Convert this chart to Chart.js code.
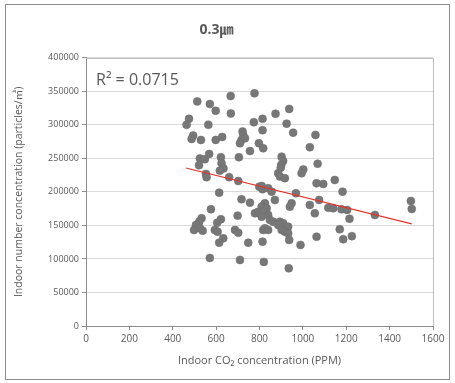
<!DOCTYPE html>
<html>
<head>
<meta charset="utf-8">
<script src="https://cdn.jsdelivr.net/npm/chart.js@4"></script>
<style>
    body { margin: 0; background: #ffffff; }
    #wrap { width: 455px; height: 383px; }
</style>
</head>
<body>
<div id="wrap"><canvas id="chart" width="455" height="383"></canvas></div>
<script>
// ---- data ----
const co2Ppm = [
    667, 777, 513, 571, 598, 668, 475, 464, 564, 774,
    814, 814, 722, 725, 717, 733, 710, 494, 487, 530,
    598, 628, 797, 817, 756, 568, 525, 548, 622, 705,
    625, 521, 634, 937, 874, 925, 955, 1058, 1032, 902,
    909, 900, 898, 1068, 1002, 994, 617, 553, 556, 660,
    702, 799, 814, 614, 717, 756, 820, 576, 699, 779,
    794, 802, 533, 522, 507, 498, 525, 538, 622, 605,
    594, 607, 687, 702, 817, 633, 614, 748, 814, 886,
    894, 917, 1063, 1094, 1147, 810, 840, 856, 968, 1183,
    871, 825, 810, 833, 948, 940, 1032, 1075, 1117, 1140,
    1178, 1204, 1055, 817, 810, 840, 848, 863, 894, 909,
    886, 932, 902, 917, 932, 825, 840, 1170, 937, 1063,
    1186, 989, 1226, 1215, 1332, 1498, 1502, 571, 710, 820,
    935
];
const particleCount = [
    343000, 347000, 335000, 331000, 321000, 317000, 309000, 300000, 300000, 304000,
    309000, 292000, 290000, 285000, 277500, 280000, 272600, 284000, 279000, 277500,
    277500, 282000, 272600, 265000, 261000, 256600, 250000, 248700, 251700, 251700,
    242700, 239700, 235000, 323800, 316700, 301800, 288400, 285000, 266600, 252600,
    246200, 240000, 236000, 242000, 233500, 227800, 231700, 226800, 221900, 221900,
    216300, 207800, 204000, 198900, 189000, 184000, 180500, 174100, 164600, 168100,
    170500, 168100, 160700, 155600, 150700, 143200, 145800, 142200, 159200, 154100,
    143200, 140700, 143200, 139200, 143200, 130800, 124300, 124300, 125800, 227800,
    222800, 220400, 212900, 211900, 217800, 208900, 205400, 200400, 198000, 200400,
    188000, 183000, 178000, 175600, 183000, 178000, 180500, 188000, 176500, 175600,
    174100, 173100, 168100, 170500, 163100, 165600, 158200, 155600, 155600, 153200,
    150700, 148200, 143200, 140700, 138300, 145800, 143200, 144300, 128300, 133200,
    129300, 120900, 134000, 160000, 165600, 186500, 174600, 101500, 98500, 95500,
    86000
];

// linear trend line end points
const trendX = [461, 1502];
const trendY = [235700, 152200];
const rSquaredText = "R² = 0.0715";

// axis ticks
const xTickValues = [0, 200, 400, 600, 800, 1000, 1200, 1400, 1600];
const yTickValues = [0, 50000, 100000, 150000, 200000, 250000, 300000, 350000, 400000];

const FONT = "'Open Sans', 'Noto Sans CJK KR', sans-serif";
const TEXT_GRAY = "#595959";
const AXIS_GRAY = "#8c8c8c";

// outer frame + plot border + R² label
const decorPlugin = {
    id: "decor",
    beforeDraw(chart) {
        const ctx = chart.ctx;
        ctx.save();
        ctx.fillStyle = "#ffffff";
        ctx.fillRect(0, 0, chart.width, chart.height);
        ctx.strokeStyle = "#8c8c8c";
        ctx.lineWidth = 1;
        ctx.strokeRect(5.5, 4.5, 444, 375);
        ctx.restore();
    },
    afterDraw(chart) {
        const ctx = chart.ctx;
        const area = chart.chartArea;
        ctx.save();
        ctx.strokeStyle = "#bfbfbf";
        ctx.lineWidth = 1;
        ctx.beginPath();
        ctx.moveTo(area.left, Math.round(area.top) + 0.5);
        ctx.lineTo(Math.round(area.right) + 0.5, Math.round(area.top) + 0.5);
        ctx.lineTo(Math.round(area.right) + 0.5, area.bottom);
        ctx.stroke();

        ctx.fillStyle = TEXT_GRAY;
        ctx.font = "16px " + FONT;
        ctx.textBaseline = "alphabetic";
        ctx.fillText(rSquaredText, area.left + 10, area.top + 27);
        ctx.restore();
    }
};

const scatterPoints = co2Ppm.map(function (x, i) {
    return { x: x, y: particleCount[i] };
});
const trendPoints = trendX.map(function (x, i) {
    return { x: x, y: trendY[i] };
});

new Chart(document.getElementById("chart"), {
    type: "scatter",
    data: {
        datasets: [
            {
                label: "trend",
                type: "line",
                data: trendPoints,
                borderColor: "#e8302e",
                borderWidth: 1.2,
                pointRadius: 0,
                fill: false,
                order: 0
            },
            {
                label: "samples",
                data: scatterPoints,
                backgroundColor: "#777777",
                borderColor: "#6e6e6e",
                borderWidth: 0.5,
                pointRadius: 4,
                order: 1
            }
        ]
    },
    options: {
        responsive: false,
        animation: false,
        layout: { padding: { top: 0, right: 22, bottom: 0, left: 0 } },
        plugins: {
            legend: { display: false },
            tooltip: { enabled: false },
            title: {
                display: true,
                text: "0.3㎛",
                color: TEXT_GRAY,
                font: { family: FONT, size: 14, weight: "bold", lineHeight: 1.2 },
                padding: { top: 22, bottom: 19 }
            }
        },
        scales: {
            x: {
                type: "linear",
                min: 0,
                max: 1600,
                afterBuildTicks(scale) {
                    scale.ticks = xTickValues.map(function (v) { return { value: v }; });
                },
                afterFit(scale) {
                    scale.height = 57;
                },
                grid: {
                    drawOnChartArea: false,
                    tickLength: 4,
                    tickColor: AXIS_GRAY
                },
                border: { color: AXIS_GRAY },
                ticks: {
                    color: TEXT_GRAY,
                    font: { family: FONT, size: 10 },
                    padding: 3,
                    maxRotation: 0,
                    callback: function (v) { return String(v); }
                },
                title: {
                    display: true,
                    text: "Indoor CO₂ concentration (PPM)",
                    color: TEXT_GRAY,
                    font: { family: FONT, size: 11 },
                    padding: { top: 2, bottom: 16 }
                }
            },
            y: {
                type: "linear",
                min: 0,
                max: 400000,
                afterBuildTicks(scale) {
                    scale.ticks = yTickValues.map(function (v) { return { value: v }; });
                },
                afterFit(scale) {
                    scale.width = 86;
                },
                grid: {
                    color: "#d9d9d9",
                    tickLength: 4,
                    tickColor: AXIS_GRAY
                },
                border: { color: AXIS_GRAY },
                ticks: {
                    color: TEXT_GRAY,
                    font: { family: FONT, size: 9 },
                    padding: 3,
                    callback: function (v) { return String(v); }
                },
                title: {
                    display: true,
                    text: "Indoor number concentration (particles/㎥)",
                    color: TEXT_GRAY,
                    font: { family: FONT, size: 10.5 },
                    padding: { top: 13, bottom: 6 }
                }
            }
        }
    },
    plugins: [decorPlugin]
});
</script>
</body>
</html>
